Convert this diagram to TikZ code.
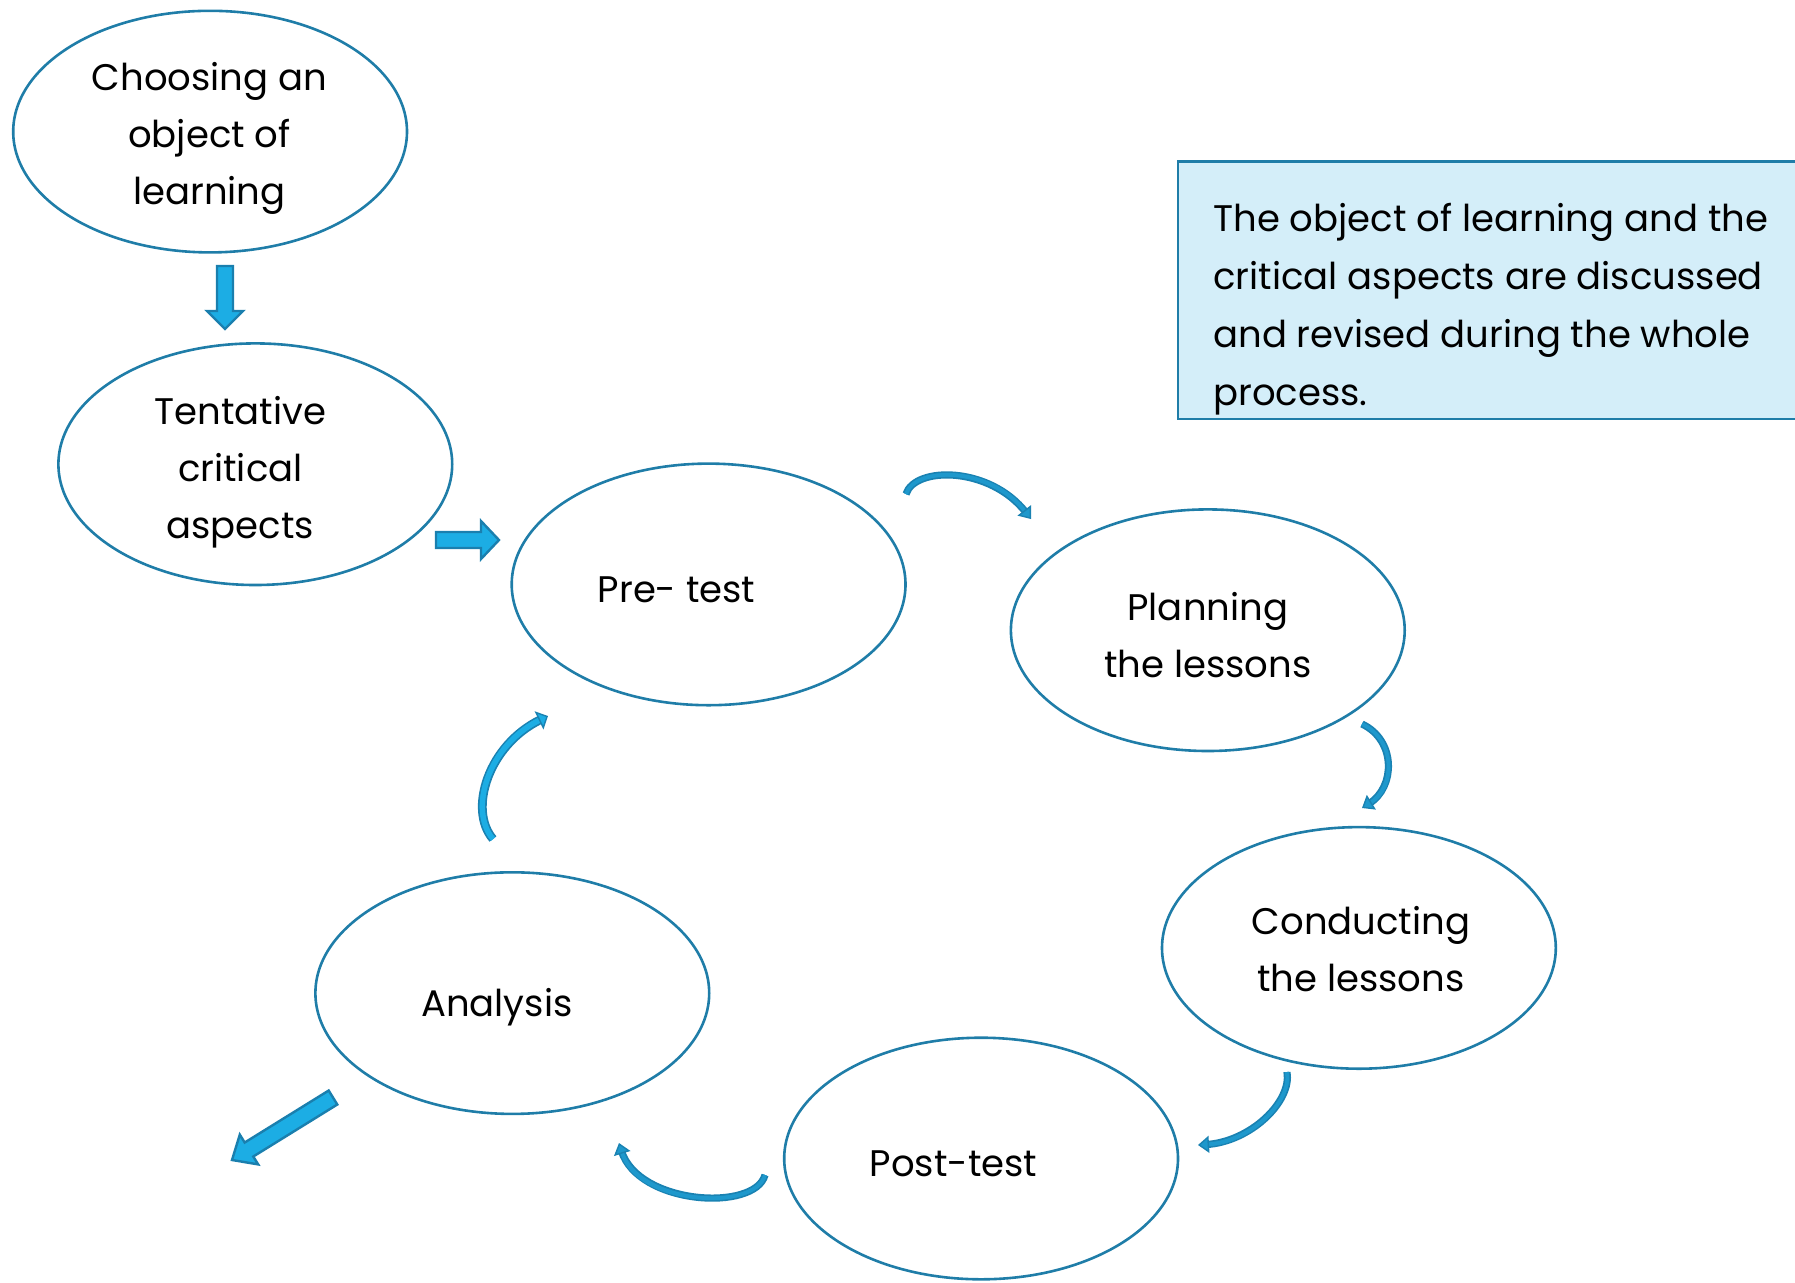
\documentclass[tikz,border=0pt]{standalone}
\usepackage{fontspec}
\setmainfont{Poppins}
\usetikzlibrary{arrows.meta,shapes.geometric}
\definecolor{elline}{RGB}{31,125,168}
\definecolor{arrfill}{RGB}{28,173,228}
\definecolor{arrline}{RGB}{26,127,174}
\definecolor{curvdark}{RGB}{26,130,178}
\definecolor{curvmid}{RGB}{30,152,204}
\definecolor{boxfill}{RGB}{212,238,249}
\tikzset{
  stage/.style={ellipse, draw=elline, line width=1.3pt, minimum width=196.9pt, minimum height=120.8pt, inner sep=0pt},
  stagetext/.style={align=center, font=\fontsize{18.5}{28.5}\selectfont, inner sep=0pt},
  blockarrow/.style={fill=arrfill, draw=arrline, line width=1.2pt, line join=miter},
  curvband/.style={draw=curvdark, double=curvmid, double distance=1.8pt, line width=0.9pt, shorten >=4pt},
  curvhead/.style={curvmid, line width=1.8pt, -{Triangle[color=curvdark, fill=curvmid, line width=0.7pt, length=5.5pt, width=8.5pt]}},
  wideband/.style={draw=curvdark, double=arrfill, double distance=2.6pt, line width=0.9pt, shorten >=4pt},
  widehead/.style={arrfill, line width=2.6pt, -{Triangle[color=curvdark, fill=arrfill, line width=0.7pt, length=5pt, width=10pt]}}
}
\begin{document}
\begin{tikzpicture}[x=0.5pt,y=-0.5pt]
\useasboundingbox (0,0) rectangle (1795,1282);

% note box
\draw[fill=boxfill, draw=elline, line width=1.3pt] (1178,161.5) rectangle (1820,419);
\node[anchor=west, align=left, font=\fontsize{18.5}{29}\selectfont, inner sep=0pt] (note) at (1213,309)
  {The object of learning and the\\critical aspects are discussed\\and revised during the whole\\process.};

% stages
\node[stage] (e1) at (210.1,131.6) {};
\node[stage] (e2) at (255.3,464.2) {};
\node[stage] (e3) at (708.6,584.4) {};
\node[stage] (e4) at (1207.8,630.2) {};
\node[stage] (e5) at (1358.9,947.9) {};
\node[stage] (e6) at (981.1,1158.5) {};
\node[stage] (e7) at (512.3,993.1) {};

\node[stagetext] (t1) at (209.5,138.6) {Choosing an\\object of\\learning};
\node[stagetext] (t2) at (240.4,472.6) {Tentative\\critical\\aspects};
\node[stagetext] (t3) at (676.6,589.3) {Pre- test};
\node[stagetext] (t4) at (1207.8,635) {Planning\\the lessons};
\node[stagetext] (t5) at (1361,949) {Conducting\\the lessons};
\node[stagetext] (t6) at (953.6,1164) {Post-test};
\node[stagetext] (t7) at (496.8,1007.4) {Analysis};

% block arrows
\draw[blockarrow] (217,266) -- (233,266) -- (233,311) -- (243,311) -- (225,329) -- (207,311) -- (217,311) -- cycle;
\draw[blockarrow] (436,532) -- (481,532) -- (481,521) -- (499,540) -- (481,559) -- (481,548) -- (436,548) -- cycle;
\draw[blockarrow] (337.3,1104.5) -- (328.7,1090.5) -- (244.7,1142.5) -- (239.8,1134.6) -- (232,1160) -- (258.2,1164.4) -- (253.3,1156.5) -- cycle;

% curved arrows
\coordinate (a0) at (906,494);   \coordinate (a1) at (1031,519);
\coordinate (b0) at (1362,724);  \coordinate (b1) at (1362,808);
\coordinate (c0) at (1287,1072); \coordinate (c1) at (1198,1145);
\coordinate (d0) at (765,1175);  \coordinate (d1) at (619,1143);
\coordinate (f0) at (493,839);   \coordinate (f1) at (548,716);

\foreach \s in {curvband,curvhead}{
  \draw[\s] (a0) .. controls (915,466) and (990,466) .. (a1);
  \draw[\s] (b0) .. controls (1396,740) and (1396,787) .. (b1);
  \draw[\s] (c0) .. controls (1292,1102) and (1250,1142) .. (c1);
  \draw[\s] (d0) .. controls (755,1212) and (638,1205) .. (d1);
}
\foreach \s in {wideband,widehead}{
  \draw[\s] (f0) .. controls (468,810) and (488,745) .. (f1);
}
\end{tikzpicture}
\end{document}
